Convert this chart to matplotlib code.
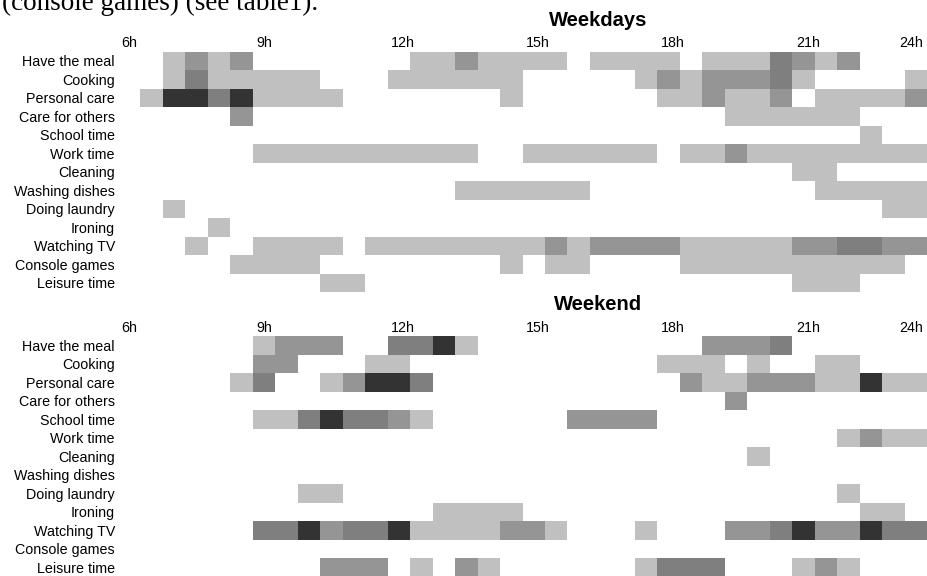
import numpy as np
import matplotlib
matplotlib.use("Agg")
import matplotlib.pyplot as plt
from matplotlib.colors import ListedColormap

# activity rows (top to bottom)
activities = ["Have the meal", "Cooking", "Personal care", "Care for others",
              "School time", "Work time", "Cleaning", "Washing dishes",
              "Doing laundry", "Ironing", "Watching TV", "Console games",
              "Leisure time"]

# half-hour slots from 6h to 24h, 0 = none ... 4 = most frequent
weekdays = ["001212 000000 011211 110111 101113 212000",
            "001311 111000 111111 000001 212223 100001",
            "014434 111100 000001 000000 112112 011112",
            "000002 000000 000000 000000 000111 111000",
            "000000 000000 000000 000000 000000 000100",
            "000000 111111 111100 111111 011211 111111",
            "000000 000000 000000 000000 000000 110000",
            "000000 000000 000111 111000 000000 011111",
            "001000 000000 000000 000000 000000 000011",
            "000010 000000 000000 000000 000000 000000",
            "000100 111101 111111 121222 211111 223322",
            "000001 111000 000001 011000 011111 111110",
            "000000 000110 000000 000000 000000 111000"]

weekend = ["000000 122200 334100 000000 002223 000000",
           "000000 220001 100000 000000 111010 011000",
           "000001 300124 430000 000000 021122 211411",
           "000000 000000 000000 000000 000200 000000",
           "000000 113433 210000 002222 000000 000000",
           "000000 000000 000000 000000 000000 001211",
           "000000 000000 000000 000000 000010 000000",
           "000000 000000 000000 000000 000000 000000",
           "000000 001100 000000 000000 000000 001000",
           "000000 000000 001111 000000 000000 000110",
           "000000 334233 411112 210001 000223 422433",
           "000000 000000 000000 000000 000000 000000",
           "000000 000222 010210 000001 333000 121000"]

hour_ticks = [6, 9, 12, 15, 18, 21, 24]
hour_labels = ["6h", "9h", "12h", "15h", "18h", "21h", "24h"]

grays = ListedColormap(["#ffffff", "#c0c0c0", "#959595", "#7f7f7f", "#333333"])

W, H = 927, 576
fig = plt.figure(figsize=(W / 100, H / 100), dpi=100)
plt.rcParams['font.family'] = ['Liberation Sans', 'DejaVu Sans']

fig.text(2.5 / W, 1 - 9.5 / H, "(console games) (see table1).",
         family=['Liberation Serif', 'DejaVu Serif'], fontsize=19.5, va='baseline')


def to_grid(rows):
    return np.array([[int(c) for c in r.replace(" ", "")] for r in rows])


def panel(top, rows, title, title_y):
    grid = to_grid(rows)
    ax = fig.add_axes([118 / W, 1 - (top + 240.5) / H, 809 / W, 240.5 / H])
    xedges = np.linspace(6, 24, grid.shape[1] + 1)
    yedges = np.arange(grid.shape[0] + 1)
    ax.pcolormesh(xedges, yedges, grid, cmap=grays, vmin=-0.5, vmax=4.5)
    ax.set_xlim(6, 24)
    ax.set_ylim(grid.shape[0], 0)
    ax.set_xticks([])
    ax.set_yticks(np.arange(grid.shape[0]) + 0.5)
    ax.set_yticklabels(activities, fontsize=10.3)
    ax.tick_params(axis='y', length=0, pad=2.2)
    for s in ax.spines.values():
        s.set_visible(False)
    for h, lab in zip(hour_ticks, hour_labels):
        if h == 24:
            ax.annotate(lab, xy=(h, 1), xycoords=('data', 'axes fraction'),
                        xytext=(-3, 3.2), textcoords='offset points',
                        ha='right', va='baseline', fontsize=10.3)
        else:
            ax.annotate(lab, xy=(h, 1), xycoords=('data', 'axes fraction'),
                        xytext=(2.6, 3.2), textcoords='offset points',
                        ha='left', va='baseline', fontsize=10.3)
    fig.text(598 / W, 1 - title_y / H, title, ha='center', va='center',
             fontsize=14.5, weight='bold')
    return ax


panel(51.7, weekdays, "Weekdays", 20.5)
panel(336, weekend, "Weekend", 305)

fig.savefig("out.png", dpi=100)
